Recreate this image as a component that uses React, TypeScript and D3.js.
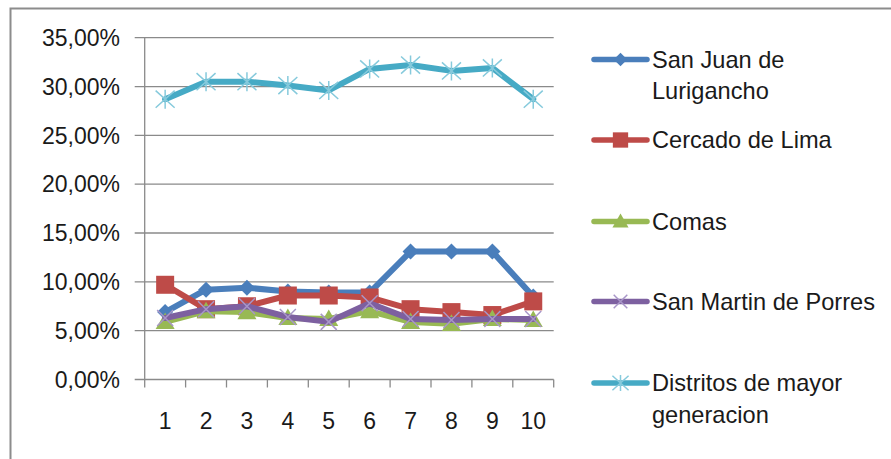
import React from 'react';
import * as d3 from 'd3';

const categories = ['1', '2', '3', '4', '5', '6', '7', '8', '9', '10'];
const yTicks = [0, 5, 10, 15, 20, 25, 30, 35];

const sanJuan = [6.9, 9.2, 9.4, 9.0, 8.9, 8.9, 13.1, 13.1, 13.1, 8.5];
const cercado = [9.7, 7.2, 7.5, 8.6, 8.6, 8.4, 7.2, 6.9, 6.6, 8.0];
const comas = [5.9, 7.0, 6.9, 6.3, 6.2, 7.0, 5.9, 5.7, 6.2, 6.1];
const sanMartin = [6.3, 7.2, 7.5, 6.4, 5.9, 7.8, 6.2, 6.1, 6.2, 6.2];
const distritos = [28.7, 30.5, 30.5, 30.1, 29.6, 31.8, 32.2, 31.6, 31.9, 28.7];

const seriesNames = [
  ['San Juan de', 'Lurigancho'],
  ['Cercado de Lima'],
  ['Comas'],
  ['San Martin de Porres'],
  ['Distritos de mayor', 'generacion'],
];

type Series = { values: number[]; color: string; light: string; marker: string };
const series: Series[] = [
  { values: sanJuan, color: '#4A7EBB', light: '#4A7EBB', marker: 'diamond' },
  { values: cercado, color: '#BE4B48', light: '#BE4B48', marker: 'square' },
  { values: comas, color: '#98B954', light: '#98B954', marker: 'triangle' },
  { values: sanMartin, color: '#7D60A0', light: '#A896C8', marker: 'x' },
  { values: distritos, color: '#46AAC5', light: '#86CADC', marker: 'star' },
];

const FONT = '"Liberation Sans", Arial, sans-serif';

function Marker({ type, x, y, color, light, s = 1 }: any) {
  if (type === 'diamond') {
    const r = 8 * s;
    return <path d={`M${x},${y - r}L${x + r},${y}L${x},${y + r}L${x - r},${y}Z`} fill={color} />;
  }
  if (type === 'square') {
    const r = 9 * s;
    return <rect x={x - r} y={y - r} width={2 * r} height={2 * r} fill={color} />;
  }
  if (type === 'triangle') {
    const r = 9.5 * s;
    return <path d={`M${x},${y - r}L${x + r},${y + r * 0.75}L${x - r},${y + r * 0.75}Z`} fill={color} />;
  }
  if (type === 'x') {
    const r = 8 * s;
    return (
      <path d={`M${x - r},${y - r}L${x + r},${y + r}M${x - r},${y + r}L${x + r},${y - r}`} stroke={light} strokeWidth={1.5} />
    );
  }
  const r = 9.5 * s;
  return (
    <path
      d={`M${x - r},${y - r * 0.9}L${x + r},${y + r * 0.9}M${x - r},${y + r * 0.9}L${x + r},${y - r * 0.9}M${x},${y - r}L${x},${y + r}`}
      stroke={light}
      strokeWidth={1.5}
    />
  );
}

export default function App() {
  const W = 891;
  const H = 459;
  const left = 144.7;
  const right = 553.7;
  const top = 37.7;
  const bottom = 379.5;

  const x = d3.scaleBand<string>().domain(categories).range([left, right]).paddingInner(0).paddingOuter(0);
  const y = d3.scaleLinear().domain([0, 35]).range([bottom, top]);
  const cx = (c: string) => (x(c) as number) + x.bandwidth() / 2;

  const line = d3
    .line<number>()
    .x((_, i) => cx(categories[i]))
    .y((d) => y(d));

  const legendY = [59.5, 140, 221.5, 301.5, 383];
  const grid = '#8A8A8A';

  return (
    <div style={{ position: 'absolute', left: 0, top: 0 }}>
      <svg width={W} height={H} style={{ display: 'block', background: '#fff' }}>
        <rect x={10.5} y={8.5} width={W + 20} height={H + 20} fill="#fff" stroke="#8C8C8C" strokeWidth={2} />
        {yTicks.map((t) => (
          <g key={t}>
            <line x1={left - 10} x2={right} y1={y(t)} y2={y(t)} stroke={grid} strokeWidth={1.3} />
            <text x={120} y={y(t)} dy="0.36em" textAnchor="end" fontFamily={FONT} fontSize={23} fill="#1a1a1a">
              {t.toFixed(2).replace('.', ',') + '%'}
            </text>
          </g>
        ))}
        <line x1={left} x2={left} y1={top} y2={bottom} stroke={grid} strokeWidth={1.3} />
        {categories.map((c) => (
          <line key={'t' + c} x1={x(c)} x2={x(c)} y1={bottom} y2={bottom + 8} stroke={grid} strokeWidth={1.3} />
        ))}
        <line x1={right} x2={right} y1={bottom} y2={bottom + 8} stroke={grid} strokeWidth={1.3} />
        {categories.map((c) => (
          <text key={'l' + c} x={cx(c)} y={421} dy="0.36em" textAnchor="middle" fontFamily={FONT} fontSize={23} fill="#1a1a1a">
            {c}
          </text>
        ))}
        {series.map((s, si) => (
          <g key={si}>
            <path d={line(s.values) || ''} fill="none" stroke={s.color} strokeWidth={6} strokeLinejoin="round" strokeLinecap="round" />
            {s.values.map((v, i) => (
              <Marker key={i} type={s.marker} x={cx(categories[i])} y={y(v)} color={s.color} light={s.light} />
            ))}
          </g>
        ))}
        {series.map((s, si) => (
          <g key={'lg' + si}>
            <line x1={594} x2={647} y1={legendY[si]} y2={legendY[si]} stroke={s.color} strokeWidth={5.5} strokeLinecap="round" />
            <Marker type={s.marker} x={620.5} y={legendY[si]} color={s.color} light={s.light} s={0.85} />
            {seriesNames[si].map((ln, li) => (
              <text key={li} x={652} y={legendY[si] + li * 31.5} dy="0.36em" fontFamily={FONT} fontSize={23.6} fill="#1a1a1a">
                {ln}
              </text>
            ))}
          </g>
        ))}
      </svg>
    </div>
  );
}
